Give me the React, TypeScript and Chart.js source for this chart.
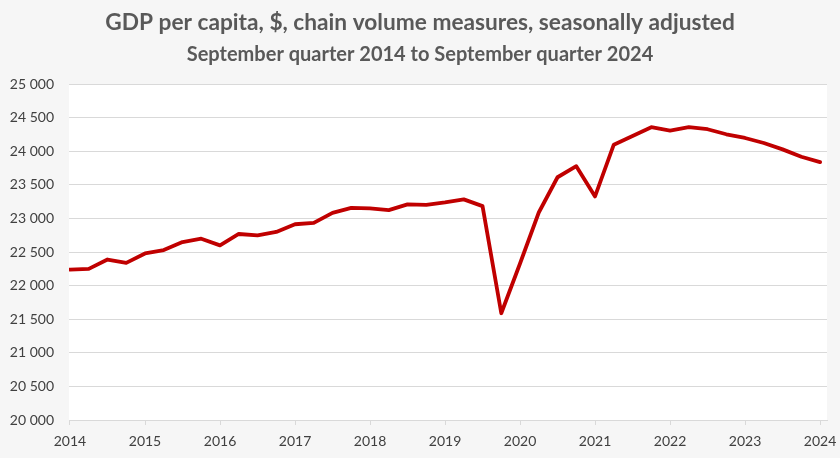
import React, { useEffect, useRef } from "react";
import { Chart, registerables } from "chart.js";

Chart.register(...registerables);

const TITLE = "GDP per capita, $, chain volume measures, seasonally adjusted";
const SUBTITLE = "September quarter 2014 to September quarter 2024";

const yearLabels = ["2014", "2015", "2016", "2017", "2018", "2019", "2020", "2021", "2022", "2023", "2024"];

const quarters = [
  "Sep 2014", "Dec 2014", "Mar 2015", "Jun 2015",
  "Sep 2015", "Dec 2015", "Mar 2016", "Jun 2016",
  "Sep 2016", "Dec 2016", "Mar 2017", "Jun 2017",
  "Sep 2017", "Dec 2017", "Mar 2018", "Jun 2018",
  "Sep 2018", "Dec 2018", "Mar 2019", "Jun 2019",
  "Sep 2019", "Dec 2019", "Mar 2020", "Jun 2020",
  "Sep 2020", "Dec 2020", "Mar 2021", "Jun 2021",
  "Sep 2021", "Dec 2021", "Mar 2022", "Jun 2022",
  "Sep 2022", "Dec 2022", "Mar 2023", "Jun 2023",
  "Sep 2023", "Dec 2023", "Mar 2024", "Jun 2024",
  "Sep 2024",
];

const gdpPerCapita = [
  22240, 22250, 22390, 22340,
  22480, 22530, 22650, 22700,
  22600, 22770, 22750, 22800,
  22915, 22935, 23085, 23160,
  23150, 23125, 23210, 23205,
  23240, 23285, 23185, 21590,
  22330, 23090, 23615, 23780,
  23330, 24100, 24230, 24360,
  24310, 24360, 24330, 24255,
  24200, 24125, 24030, 23920,
  23840,
];

const FONT = "Lato, 'Open Sans', sans-serif";

const fmt = (v: number) => String(v).replace(/\B(?=(\d{3})+(?!\d))/g, " ");

const bgPlugin = {
  id: "bgPlugin",
  beforeDraw(chart: any) {
    const { ctx, chartArea, width, height } = chart;
    ctx.save();
    ctx.fillStyle = "#f6f6f6";
    ctx.fillRect(0, 0, width, height);
    ctx.fillStyle = "#ffffff";
    ctx.fillRect(chartArea.left, chartArea.top, chartArea.right - chartArea.left, chartArea.bottom - chartArea.top);
    ctx.restore();
  },
};

export default function App() {
  const ref = useRef<HTMLCanvasElement | null>(null);

  useEffect(() => {
    document.body.style.margin = "0";
    const canvas = ref.current;
    if (!canvas) return;
    const chart = new Chart(canvas, {
      type: "line",
      data: {
        datasets: [
          {
            label: "GDP per capita",
            data: gdpPerCapita.map((v, i) => ({ x: i, y: v, q: quarters[i] })) as any,
            borderColor: "#c00000",
            backgroundColor: "#c00000",
            borderWidth: 3.8,
            borderJoinStyle: "round",
            borderCapStyle: "round",
            pointRadius: 0,
            tension: 0,
            xAxisID: "x",
            yAxisID: "y",
          },
        ],
      },
      options: {
        animation: false,
        responsive: false,
        maintainAspectRatio: false,
        layout: { padding: { left: 0, right: 0, top: 0, bottom: 0 } },
        plugins: {
          legend: { display: false },
          tooltip: { enabled: false },
          title: {
            display: true,
            text: TITLE,
            color: "#595959",
            font: { family: FONT, size: 22.7, weight: "bold" },
            padding: { top: 9, bottom: 0 },
          },
          subtitle: {
            display: true,
            text: SUBTITLE,
            color: "#595959",
            font: { family: FONT, size: 20, weight: "bold" },
            padding: { top: 6, bottom: 18 },
          },
        },
        scales: {
          x: {
            type: "linear",
            min: -0.053,
            max: 40.37,
            afterBuildTicks: (scale: any) => {
              scale.ticks = yearLabels.map((_, k) => ({ value: k * 4 }));
            },
            afterFit: (scale: any) => {
              scale.height = 38;
              scale.paddingLeft = 0;
              scale.paddingRight = 0;
            },
            ticks: {
              autoSkip: false,
              maxRotation: 0,
              color: "#404040",
              font: { family: FONT, size: 14 },
              padding: 8,
              callback: (v: any) => yearLabels[Math.round(Number(v) / 4)] ?? "",
            },
            grid: {
              display: true,
              drawOnChartArea: false,
              drawTicks: true,
              tickLength: 5,
              color: "#d9d9d9",
            },
            border: { display: true, color: "#d9d9d9", width: 1 },
          },
          y: {
            position: "left",
            min: 20000,
            max: 25000,
            afterFit: (scale: any) => {
              scale.width = 69;
            },
            ticks: {
              stepSize: 500,
              color: "#404040",
              font: { family: FONT, size: 14 },
              padding: 15,
              callback: (v: any) => fmt(Number(v)),
            },
            grid: { color: "#d9d9d9", drawTicks: false, lineWidth: 1 },
            border: { display: false },
          },
          yRightSpace: {
            position: "right",
            min: 20000,
            max: 25000,
            afterFit: (scale: any) => {
              scale.width = 13;
            },
            ticks: { display: false },
            grid: { display: false, drawTicks: false },
            border: { display: false },
          },
        },
      },
      plugins: [bgPlugin],
    });
    return () => chart.destroy();
  }, []);

  return (
    <div style={{ width: 840, height: 458 }}>
      <canvas ref={ref} width={840} height={458} style={{ display: "block", width: 840, height: 458 }} />
    </div>
  );
}
